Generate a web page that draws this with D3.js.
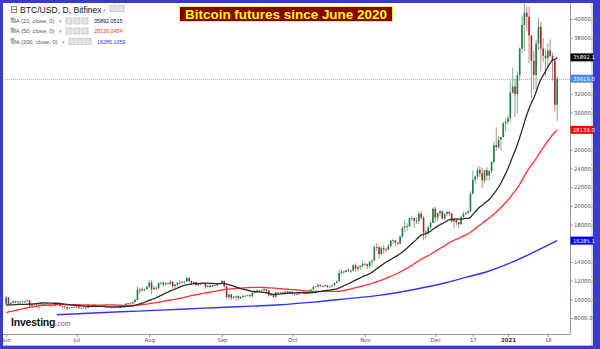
<!DOCTYPE html>
<html><head><meta charset="utf-8">
<script src="https://cdn.jsdelivr.net/npm/d3@7"></script>
<style>html,body{margin:0;padding:0;background:#fff;}svg{display:block;}</style>
</head><body><svg id="c" width="600" height="349"></svg>
<script>
// ---------- DATA (daily candles, Bitfinex BTC/USD, from 2020-06-01) ----------
const startDate = "2020-06-01";
const opens = [
9450,10200,9520,9660,9800,9650,9750,9760,9780,9780,9880,9320,9480,9470,9390,9430,9530,9450,9400,9300,9360,9300,9650,9620,9290,9240,9160,9010,9110,9190,
9140,9230,9090,9070,9130,9080,9340,9250,9430,9230,9290,9240,9300,9240,9250,9190,9130,9150,9170,9210,9160,9390,9540,9610,9550,9710,9930,11030,10940,11100,11110,
11350,11800,11070,11230,11190,11750,11780,11600,11760,11680,11880,11410,11580,11780,11770,11860,11910,12290,11960,11760,11860,11520,11680,11650,11750,11330,11460,11320,11530,11480,11710,
11680,11970,11410,10250,10510,10170,10280,10370,10130,10240,10360,10400,10440,10330,10680,10790,10950,10940,10940,11080,10920,10420,10530,10240,10740,10690,10730,10770,10700,10840,
10780,10620,10570,10550,10670,10790,10600,10670,10920,11060,11300,11380,11550,11430,11430,11500,11320,11360,11500,11750,11920,12820,12980,12930,13110,13030,13070,13650,13280,13460,13560,
13800,13760,13550,14030,14160,15590,15580,14840,15480,15330,15300,15700,16280,16320,16070,15960,16720,17650,17800,17820,18680,18700,18420,18370,19160,18720,17150,17140,17720,18180,
19700,18760,19220,19420,18650,19150,19360,19170,18320,18550,18250,18030,18800,19140,19250,19430,21310,22800,23130,23860,23480,22720,23820,23240,23730,24710,26490,26280,27080,27360,28840,
29000,29370,32130,32780,31970,33990,36820,39370,40670,40240,38240,35540,34010,37390,39160,36830,36070,35800,36630,36020,35540,30830];
const highs = [
10430,10230,9690,9880,9850,9760,9800,9800,9880,9990,9950,9550,9490,9490,9530,9580,9560,9480,9440,9400,9410,9700,9680,9660,9320,9280,9200,9180,9230,9200,
9300,9260,9130,9190,9140,9370,9360,9470,9450,9310,9300,9340,9350,9280,9270,9210,9180,9200,9240,9220,9420,9560,9650,9640,9740,10100,11400,11240,11320,11170,11440,
12100,12050,11480,11420,11780,11900,11920,11800,11800,12080,11940,11620,11800,12020,11980,11950,12480,12400,12020,11880,11890,11690,11710,11820,11760,11530,11580,11550,11580,11720,11770,
12080,11990,11470,10580,10560,10350,10400,10420,10350,10520,10410,10480,10580,10790,10940,11100,11030,11040,11180,11080,10990,10570,10550,10800,10760,10790,10810,10950,10870,10850,
10920,10640,10600,10700,10800,10800,10680,10950,11100,11480,11420,11720,11560,11550,11620,11540,11400,11520,11800,12020,13220,13190,13030,13160,13340,13240,13790,13860,13630,13680,14100,
13900,13830,14060,14240,15750,15970,15770,15660,15850,15480,15960,16340,16480,16330,16150,16880,17840,18480,18180,18800,18960,18740,18770,19420,19480,18920,17450,17880,18320,19840,
19930,19300,19560,19510,19170,19420,19400,19290,18630,18560,18290,18940,19400,19330,19550,21560,23780,23280,24170,24300,24100,23840,24150,23800,24780,26870,28400,27450,27390,28990,29300,
29680,33300,34800,33600,34400,36950,40370,41950,41350,41350,38250,36600,37800,40100,39700,37950,36800,37400,37800,36400,35600,33900];
const lows = [
9420,9270,9400,9460,9590,9560,9380,9630,9570,9700,9110,9250,9350,9250,8910,9370,9250,9280,9220,9200,9270,9280,9560,9230,9010,9030,8850,8950,9050,9090,
9100,8950,9050,9060,8900,9060,9200,9240,9150,9120,9190,9170,9200,9110,9150,9010,9090,9120,9110,9130,9150,9290,9480,9510,9540,9660,9910,10600,10860,10840,10970,
11230,10550,11000,11000,11100,11580,11350,11530,11560,11530,11150,11180,11280,11650,11680,11690,11840,11820,11580,11680,11500,11400,11530,11600,11150,11270,11180,11310,11440,11470,11600,
11620,11200,10030,9960,9900,10030,9880,9860,10000,10200,10200,10300,10220,10220,10640,10680,10750,10820,10900,10800,10300,10380,10150,10200,10580,10640,10630,10640,10650,10670,
10450,10380,10510,10520,10620,10540,10560,10540,10830,11060,11280,11220,11300,11280,11300,11230,11290,11340,11420,11690,11900,12700,12750,12900,12900,12800,13060,12970,12990,13150,13440,
13600,13200,13290,13540,14100,15190,14400,14720,14860,15090,15290,15470,15960,15710,15800,15870,16560,17220,17360,17760,18400,17650,18040,18050,18530,16330,16500,16880,17550,18180,
18190,18340,18900,18580,18520,18920,18900,18220,17650,17910,17600,18020,18730,19000,19080,19300,21230,22350,22800,23100,21900,22400,22700,22700,23440,24500,25900,26100,25880,27330,28000,
28700,28950,32000,29500,29900,33400,36330,36500,38750,35300,31500,32500,32400,36700,34400,35400,33900,34800,35900,33400,30100,29100];
const closes = [
10200,9520,9660,9800,9650,9750,9760,9780,9780,9880,9320,9480,9470,9390,9430,9530,9450,9400,9300,9360,9300,9650,9620,9290,9240,9160,9010,9110,9190,9140,
9230,9090,9070,9130,9080,9340,9250,9430,9230,9290,9240,9300,9240,9250,9190,9130,9150,9170,9210,9160,9390,9540,9610,9550,9710,9930,11030,10940,11100,11110,11350,
11800,11070,11230,11190,11750,11780,11600,11760,11680,11880,11410,11580,11780,11770,11860,11910,12290,11960,11760,11860,11520,11680,11650,11750,11330,11460,11320,11530,11480,11710,11680,
11970,11410,10250,10510,10170,10280,10370,10130,10240,10360,10400,10440,10330,10680,10790,10950,10940,10940,11080,10920,10420,10530,10240,10740,10690,10730,10770,10700,10840,10780,
10620,10570,10550,10670,10790,10600,10670,10920,11060,11300,11380,11550,11430,11430,11500,11320,11360,11500,11750,11920,12820,12980,12930,13110,13030,13070,13650,13280,13460,13560,13800,
13760,13550,14030,14160,15590,15580,14840,15480,15330,15300,15700,16280,16320,16070,15960,16720,17650,17800,17820,18680,18700,18420,18370,19160,18720,17150,17140,17720,18180,19700,
18760,19220,19420,18650,19150,19360,19170,18320,18550,18250,18030,18800,19140,19250,19430,21310,22800,23130,23860,23480,22720,23820,23240,23730,24710,26490,26280,27080,27360,28840,29000,
29370,32130,32780,31970,33990,36820,39370,40670,40240,38240,35540,34010,37390,39160,36830,36070,35800,36630,36020,35540,30830,33619];
// closes before the visible range (2020-04-12 .. 2020-05-31), needed for MA(21) and MA(50)
const priorCloses = [
6900,6850,6860,6620,7110,7030,7250,7130,6830,6850,7130,7490,7510,7540,7700,7790,7760,8780,8620,
8830,8970,8900,8880,9030,9150,9990,9810,9540,8720,8560,8810,9310,9790,9320,9380,9670,9730,9780,9510,9060,9170,9180,8720,8900,8840,9200,9580,9430,9700,9450];
// MA(200)
const ma200Dates = ["2020-06-01","2020-06-15","2020-06-22","2020-07-06","2020-07-20","2020-08-03","2020-08-17","2020-08-31","2020-09-14","2020-09-26","2020-10-10","2020-10-24","2020-11-07","2020-11-22","2020-12-06","2020-12-14","2020-12-23","2021-01-03","2021-01-12","2021-01-22"];
const ma200Values = [8150,8290,8357,8510,8665,8820,8975,9130,9280,9420,9700,10050,10420,11050,11800,12350,12950,14000,15050,16285];
// axes
const yTickValues = [8000,10000,12000,14000,16000,18000,20000,22000,24000,26000,28000,30000,32000,34000,36000,38000,40000];
const xTickDates = ["2020-06-01","2020-07-01","2020-08-01","2020-09-01","2020-10-01","2020-11-01","2020-12-01","2020-12-17","2021-01-01","2021-01-18"];
const xTickLabels = ["Jun","Jul","Aug","Sep","Oct","Nov","Dec","17","2021","18"];
// legend / tags
const legendTitle = "BTC/USD, D, Bitfinex";
const maNames = ["MA (21, close, 0)","MA (50, close, 0)","MA (200, close, 0)"];
const maLegendValues = ["35892.0515","28139.0454","16285.1059"];
const maColors = ["#2b2b2b","#ff3030","#3333ff"];
const lastPrice = 33619.0;
const tagValues = [35892.1, 33619.0, 28139.0, 16285.1];
const tagColors = ["#000000","#4d86ee","#ff0000","#0000ff"];
const titleText = "Bitcoin futures since June 2020";

// ---------- CHART ----------
const svg = d3.select("#c");
const parse = d3.utcParse("%Y-%m-%d");
const t0 = parse(startDate);
const dates = closes.map((_, i) => d3.utcDay.offset(t0, i));
const DAY = 864e5;
const L = 5, R = 570, T = 4, B = 334;

const x = d3.scaleUtc()
  .domain([new Date(+t0 - 0.49 * DAY), new Date(+t0 + 240.45 * DAY)])
  .range([L, R]);
const y = d3.scaleLinear().domain([6292, 41605]).range([B, T]);

// frame
svg.append("rect").attr("width", 600).attr("height", 349).attr("fill", "#3a3ad0");
svg.append("rect").attr("x", 3).attr("y", 3).attr("width", 590).attr("height", 343).attr("fill", "#fff");
svg.append("line").attr("x1", 592).attr("x2", 592).attr("y1", 3).attr("y2", 346).attr("stroke", "#bbb");
svg.append("line").attr("x1", 3).attr("x2", 593).attr("y1", 345.5).attr("y2", 345.5).attr("stroke", "#bbb");

svg.append("clipPath").attr("id", "pc").append("rect")
  .attr("x", L).attr("y", T).attr("width", R - L).attr("height", B - T);
const plot = svg.append("g").attr("clip-path", "url(#pc)");

// last price dotted line
plot.append("line").attr("x1", L).attr("x2", R)
  .attr("y1", Math.round(y(lastPrice)) + 0.5).attr("y2", Math.round(y(lastPrice)) + 0.5)
  .attr("stroke", "#8fb3f3").attr("stroke-dasharray", "1,1").attr("stroke-width", 1);

// candles
const cg = plot.append("g");
const idx = d3.range(closes.length);
cg.selectAll("line.w").data(idx).join("line")
  .attr("x1", i => x(dates[i])).attr("x2", i => x(dates[i]))
  .attr("y1", i => y(highs[i])).attr("y2", i => y(lows[i]))
  .attr("stroke", i => closes[i] >= opens[i] ? "#86ad94" : "#b98b8b").attr("stroke-width", 1);
cg.selectAll("rect.b").data(idx).join("rect")
  .attr("x", i => x(dates[i]) - 0.8).attr("width", 1.6)
  .attr("y", i => y(Math.max(opens[i], closes[i])))
  .attr("height", i => Math.max(0.8, Math.abs(y(opens[i]) - y(closes[i]))))
  .attr("fill", i => closes[i] >= opens[i] ? "#1a7f3f" : "#a52a2a");

// moving averages
const allCloses = priorCloses.concat(closes);
function ma(n) {
  return closes.map((_, i) => {
    const end = priorCloses.length + i + 1;
    return d3.mean(allCloses.slice(end - n, end));
  });
}
const ma21 = ma(21), ma50 = ma(50);
const line = d3.line().x(d => x(d[0])).y(d => y(d[1])).curve(d3.curveMonotoneX);
plot.append("path").attr("d", line(ma200Dates.map((d, i) => [parse(d), ma200Values[i]])))
  .attr("fill", "none").attr("stroke", maColors[2]).attr("stroke-width", 1.4);
plot.append("path").attr("d", line(dates.map((d, i) => [d, ma50[i]])))
  .attr("fill", "none").attr("stroke", maColors[1]).attr("stroke-width", 1.3);
plot.append("path").attr("d", line(dates.map((d, i) => [d, ma21[i]])))
  .attr("fill", "none").attr("stroke", maColors[0]).attr("stroke-width", 1.3);

// logo box
svg.append("rect").attr("x", L).attr("y", 313.5).attr("width", 52).attr("height", 20).attr("fill", "#fff");
const logo = svg.append("text").attr("x", 11).attr("y", 326).attr("font-family", "Liberation Sans, Arial, sans-serif");
logo.append("tspan").attr("font-size", 10.5).attr("font-weight", "bold").attr("fill", "#111").attr("letter-spacing", -0.2).text("Investing");
logo.append("tspan").attr("font-size", 7).attr("fill", "#666").text(".com");

// right axis (labels hidden under price tags, as in the original)
const ya = svg.append("g").attr("transform", `translate(${R},0)`)
  .call(d3.axisRight(y).tickValues(yTickValues).tickFormat(d => d.toFixed(1)).tickSize(3).tickSizeOuter(0));
ya.select(".domain").attr("stroke", "#999").attr("d", `M0.5,3V${B}`);
ya.selectAll(".tick line").attr("stroke", "#999");
ya.selectAll(".tick text").attr("x", 4).attr("fill", "#555")
  .attr("font-family", "DejaVu Sans, sans-serif").attr("font-size", 5.3)
  .style("display", d => tagValues.some(v => Math.abs(y(v) - y(d)) < 7) ? "none" : null);

// bottom axis
const xa = svg.append("g").attr("transform", `translate(0,${B})`)
  .call(d3.axisBottom(x).tickValues(xTickDates.map(parse)).tickFormat((d, i) => xTickLabels[i]).tickSize(3).tickSizeOuter(0));
xa.select(".domain").attr("stroke", "#999").attr("d", `M3,0.5H${R + 0.5}`);
xa.selectAll(".tick line").attr("stroke", "#999");
xa.selectAll(".tick text").attr("y", 4)
  .attr("font-family", "DejaVu Sans, sans-serif").attr("font-size", 5.4)
  .attr("font-weight", (d, i) => xTickLabels[i] === "2021" ? "bold" : "normal")
  .attr("fill", (d, i) => xTickLabels[i] === "2021" ? "#333" : "#555");
svg.append("rect").attr("x", 0).attr("y", 0).attr("width", 3).attr("height", 349).attr("fill", "#3a3ad0");

// price tags
const tg = svg.append("g").selectAll("g").data(tagValues).join("g")
  .attr("transform", d => `translate(${R + 0.5},${y(d)})`);
tg.append("rect").attr("x", 0).attr("y", -4).attr("width", 22.5).attr("height", 8)
  .attr("fill", (d, i) => tagColors[i]);
tg.append("text").attr("x", 2.5).attr("y", 2).attr("fill", "#fff")
  .attr("font-family", "DejaVu Sans, sans-serif").attr("font-size", 5.3).text(d => d.toFixed(1));

// title
svg.append("rect").attr("x", 179.5).attr("y", 6.5).attr("width", 213).attr("height", 15)
  .attr("fill", "#850000").attr("stroke", "#f5e84a").attr("stroke-width", 1);
svg.append("text").attr("x", 286).attr("y", 18.6).attr("text-anchor", "middle")
  .attr("font-family", "Liberation Sans, Arial, sans-serif").attr("font-weight", "bold").attr("font-size", 13)
  .attr("fill", "#ffff00").attr("textLength", 202).attr("lengthAdjust", "spacingAndGlyphs").text(titleText);

// legend
const lg = svg.append("g").attr("font-family", "Liberation Sans, Arial, sans-serif");
lg.append("rect").attr("x", 11.5).attr("y", 6.5).attr("width", 5).attr("height", 6).attr("fill", "none").attr("stroke", "#888");
lg.append("line").attr("x1", 12).attr("x2", 16).attr("y1", 9.5).attr("y2", 9.5).attr("stroke", "#888");
lg.append("text").attr("x", 20).attr("y", 12.5)
  .attr("font-size", 8.6).attr("fill", "#111").text(legendTitle);
lg.append("text").attr("x", 103).attr("y", 12).attr("font-size", 5).attr("fill", "#999").text("▾");
[0, 1].forEach(k => lg.append("rect").attr("x", 110 + k * 8).attr("y", 5.5).attr("width", 6).attr("height", 6).attr("fill", "#e4e4e4").attr("stroke", "#ccc"));
const rowsY = [21, 31, 41.5];
maNames.forEach((nm, k) => {
  const yy = rowsY[k];
  const w = k === 2 ? 3 : 0;
  lg.append("text").attr("x", 11).attr("y", yy + 2).attr("font-size", 5.8).attr("fill", "#555").text(nm);
  lg.append("rect").attr("x", 10.5).attr("y", yy - 3.5).attr("width", 4).attr("height", 2.5).attr("fill", "#aaa");
  lg.append("text").attr("x", 59 + w).attr("y", yy + 2).attr("font-size", 5).attr("fill", "#999").text("▾");
  [0, 1, 2].forEach(j => lg.append("rect").attr("x", 66 + w + j * 8).attr("y", yy - 3).attr("width", 6).attr("height", 6)
    .attr("fill", "#e4e4e4").attr("stroke", "#ccc"));
  lg.append("text").attr("x", 94 + w).attr("y", yy + 2).attr("font-size", 5.4)
    .attr("fill", k === 0 ? "#111" : maColors[k]).text(maLegendValues[k]);
});
</script></body></html>
